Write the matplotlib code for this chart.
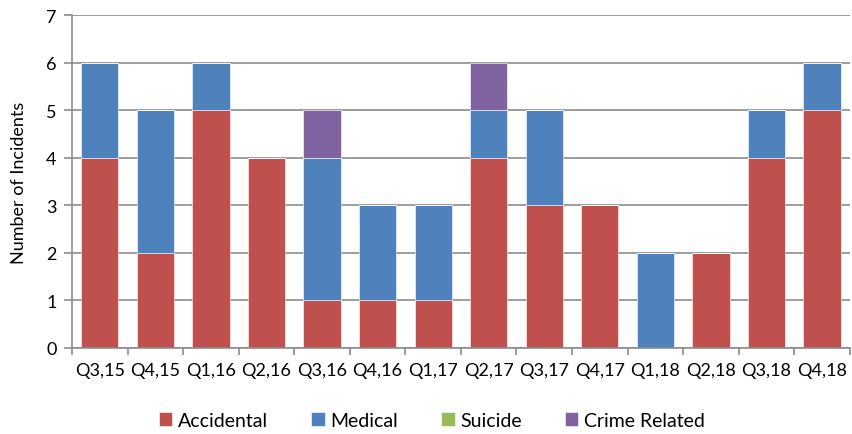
import numpy as np
import matplotlib
matplotlib.use('Agg')
import matplotlib.pyplot as plt

# données
quarters = ['Q3,15', 'Q4,15', 'Q1,16', 'Q2,16', 'Q3,16', 'Q4,16', 'Q1,17',
            'Q2,17', 'Q3,17', 'Q4,17', 'Q1,18', 'Q2,18', 'Q3,18', 'Q4,18']
accidental = [4, 2, 5, 4, 1, 1, 1, 4, 3, 3, 0, 2, 4, 5]
medical = [2, 3, 1, 0, 3, 2, 2, 1, 2, 0, 2, 0, 1, 1]
suicide = [0, 0, 0, 0, 0, 0, 0, 0, 0, 0, 0, 0, 0, 0]
crime = [0, 0, 0, 0, 1, 0, 0, 1, 0, 0, 0, 0, 0, 0]

plt.rcParams['font.family'] = ['Lato', 'DejaVu Sans']

fig = plt.figure(figsize=(8.52, 4.35), dpi=100)
ax = fig.add_axes([0.0845, 0.198, 0.913, 0.765])

x = np.arange(len(quarters))
w = 0.67
series = [('Accidental', accidental, '#C0504D'),
          ('Medical', medical, '#4F81BD'),
          ('Suicide', suicide, '#9BBB59'),
          ('Crime Related', crime, '#8064A2')]
bottom = np.zeros(len(quarters))
for name, vals, col in series:
    vals = np.array(vals, dtype=float)
    ax.bar(x, vals, w, bottom=bottom, color=col, label=name, zorder=2,
           edgecolor='white', linewidth=0.4)
    bottom += vals

ax.set_xlim(-0.5, len(quarters) - 0.5)
ax.set_ylim(0, 7)
ax.set_yticks(range(0, 8))
ax.yaxis.grid(True, color='#8c8c8c', linewidth=1.2, zorder=0)
ax.set_axisbelow(True)

ax.set_xticks(x)
ax.set_xticklabels(quarters, fontsize=13)
ax.set_xticks(np.arange(-0.5, len(quarters)), minor=True)
ax.tick_params(axis='x', which='major', length=0, pad=10)
ax.tick_params(axis='x', which='minor', length=5, width=1.2, color='#8c8c8c')
ax.tick_params(axis='y', length=6, width=1.2, color='#8c8c8c', labelsize=13, pad=5)
ax.set_ylabel('Number of Incidents', fontsize=13, labelpad=14)

for s in ['top', 'right']:
    ax.spines[s].set_visible(False)
for s in ['left', 'bottom']:
    ax.spines[s].set_color('#8c8c8c')
    ax.spines[s].set_linewidth(1.2)

handles, labels = ax.get_legend_handles_labels()
fig.legend(handles, labels, loc='center', bbox_to_anchor=(0.507, 0.032), ncol=4,
           frameon=False, fontsize=14, handlelength=0.7, handleheight=0.7,
           handletextpad=0.3, columnspacing=2.2)

fig.savefig('out.png', dpi=100)
